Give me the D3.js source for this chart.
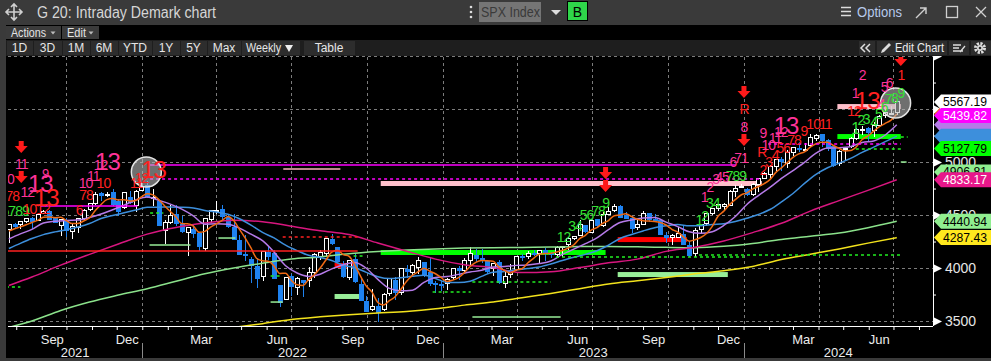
<!DOCTYPE html>
<html>
<head>
<meta charset="utf-8">
<script src="https://cdn.jsdelivr.net/npm/d3@7"></script>
<style>
  html, body { margin: 0; padding: 0; background: #000; }
  svg { display: block; font-family: "Liberation Sans", Arial, sans-serif; }
</style>
</head>
<body>
<svg id="chart" width="991" height="361"></svg>
<script>
// SPX Index, weekly bars Jul 2021 - Jul 2024
const dates = d3.timeFriday.range(new Date(2021, 6, 23), new Date(2024, 6, 6));

const open = [
  4367,4409,4406,4438,4464,4450,4514,4536,4466,4403,4450,4348,4385,4463,4553,4610,4700,4689,4712,4628,4573,4669,4587,4733,
  4779,4655,4632,4356,4431,4505,4412,4332,4363,4328,4188,4462,4541,4548,4474,4386,4255,4130,4082,4013,3920,4151,4134,3838,3702,3920,3818,3880,3883,3960,4113,4138,4271,4195,4035,3910,4083,3849,3683,3610,3638,3612,3755,3881,3765,3982,3956,4005,4052,3954,3853,3843,
  3853,3910,3999,3978,4070,4120,4090,4057,3992,4055,3855,3938,3983,4113,4108,4138,4135,4167,4140,4126,4190,4225,4282,4305,4405,4338,4454,4404,4507,4547,4580,4491,4464,4380,4415,4510,4460,4453,4310,4285,4290,4320,4217,4140,4365,4418,4517,4558,4576,4593,4725,4758,
  4745,4690,4792,4848,4887,4957,5026,4989,5093,5132,5111,5154,5220,5257,5204,5149,4987,5114,5142,5221,5303,5316,5297,5341,5440,5459,5471
];
const high = [
  4415,4429,4441,4468,4480,4513,4545,4549,4486,4466,4476,4429,4475,4559,4608,4718,4714,4717,4744,4652,4713,4731,4740,4808,
  4818,4749,4632,4453,4595,4590,4490,4386,4402,4329,4465,4546,4637,4593,4500,4513,4309,4307,4104,4091,4158,4205,4169,3838,3914,3946,3918,3880,4012,4140,4167,4280,4325,4203,4062,4076,4140,3906,3736,3806,3718,3762,3905,3911,4001,4028,4034,4100,4052,4101,3876,3878,
  3907,4003,4015,4095,4195,4182,4176,4061,4049,4079,3965,4039,4110,4133,4163,4170,4170,4186,4155,4212,4212,4291,4300,4449,4407,4458,4456,4528,4578,4607,4594,4528,4490,4458,4541,4514,4511,4465,4338,4317,4385,4394,4256,4374,4418,4521,4560,4595,4609,4739,4779,4793,
  4754,4802,4842,4907,4975,5030,5048,5111,5140,5189,5179,5261,5265,5264,5222,5151,5114,5146,5240,5325,5341,5327,5375,5447,5505,5524,5570
];
const low = [
  4233,4372,4367,4424,4367,4443,4508,4458,4428,4305,4288,4278,4329,4447,4537,4596,4630,4672,4585,4495,4553,4600,4531,4733,
  4663,4582,4395,4223,4414,4401,4327,4115,4279,4157,4161,4424,4506,4450,4381,4267,4131,4063,3859,3811,3876,4074,3900,3636,3702,3738,3742,3722,3822,3910,4080,4112,4219,4057,3907,3887,3856,3693,3584,3591,3491,3590,3733,3698,3750,3907,3938,3940,3918,3828,3764,3784,
  3795,3888,3885,3950,4015,4060,4047,3943,3928,3847,3809,3908,3968,4069,4086,4113,4049,4062,4098,4098,4103,4166,4261,4305,4328,4328,4385,4388,4504,4528,4474,4458,4335,4356,4415,4430,4449,4316,4238,4216,4284,4224,4104,4103,4334,4394,4503,4537,4546,4591,4667,4752,
  4682,4682,4714,4845,4845,4918,4920,4946,5057,5091,5104,5138,5203,5146,5107,4953,4963,5011,5130,5211,5256,5191,5234,5327,5420,5447,5445
];
const close = [
  4411,4395,4437,4468,4441,4509,4535,4458,4432,4455,4357,4391,4471,4545,4605,4697,4682,4698,4595,4538,4712,4620,4726,4766,
  4677,4662,4398,4432,4500,4418,4349,4385,4329,4204,4463,4543,4546,4488,4393,4272,4132,4123,4024,3901,4158,4109,3901,3675,3912,3825,3899,3863,3962,4130,4145,4280,4228,4058,3924,4067,3873,3693,3586,3640,3583,3752,3901,3771,3993,3965,4026,4072,3934,3852,3845,3840,
  3895,3999,3973,4071,4136,4090,4079,3970,4046,3862,3917,3971,4109,4105,4138,4133,4169,4136,4124,4192,4205,4282,4299,4410,4348,4450,4399,4505,4536,4582,4478,4464,4370,4406,4516,4457,4450,4320,4288,4309,4328,4224,4117,4358,4415,4514,4559,4595,4604,4719,4755,4770,
  4697,4784,4840,4891,4959,5027,5006,5089,5137,5124,5117,5234,5254,5204,5123,4967,5100,5128,5223,5303,5305,5278,5347,5432,5465,5460,5567
];

// moving average studies
const maFast = [ // every week
  4348,4371,4388,4408,4430,4450,4478,4482,4475,4478,4447,4419,4421,4444,4474,4542,4600,4645,4655,4642,
  4645,4633,4638,4672,4700,4690,4646,4587,4534,4482,4419,4417,4396,4337,4346,4385,4417,4449,4487,4448,
  4366,4282,4189,4090,4068,4063,4019,3949,3951,3884,3842,3835,3892,3936,4000,4076,4149,4168,4127,4111,
  4030,3923,3829,3772,3675,3651,3692,3729,3800,3876,3931,3965,3998,3970,3946,3909,3873,3886,3910,3956,
  4015,4054,4070,4069,4064,4009,3975,3953,3981,3993,4048,4091,4131,4136,4140,4151,4165,4188,4220,4278,
  4309,4358,4381,4422,4448,4494,4500,4513,4486,4460,4447,4443,4440,4430,4406,4365,4339,4294,4253,4267,
  4288,4326,4393,4488,4537,4598,4646,4689,4709,4745,4769,4796,4834,4900,4945,4994,5044,5077,5095,5140,
  5173,5187,5186,5156,5130,5104,5108,5144,5212,5247,5291,5333,5365,5396,5454
];
const maMid = [ // every second week
  4274,4322,4365,4425,4441,4449,4452,4476,4509,4550,4593,4642,4671,4639,4603,4555,4492,4414,4417,4412,
  4376,4319,4258,4150,4021,3953,3921,3942,3992,4031,4053,3998,3893,3808,3786,3791,3864,3911,3919,3940,
  3962,3978,4010,4014,4025,4029,4042,4066,4128,4178,4230,4285,4363,4429,4454,4471,4476,4433,4391,4342,
  4327,4343,4402,4486,4599,4684,4761,4845,4920,4997,5084,5132,5135,5147,5184,5198,5255,5351
];
const maSlow = [ // every second week
  4184,4233,4278,4315,4341,4362,4387,4420,4467,4495,4521,4547,4573,4574,4576,4574,4567,4543,4528,4507,
  4465,4405,4336,4284,4216,4164,4120,4100,4071,4026,4003,3959,3918,3900,3909,3922,3931,3902,3864,3863,
  3876,3921,3961,3967,3983,3995,4010,4038,4071,4102,4129,4163,4215,4279,4316,4350,4380,4398,4410,4398,
  4399,4410,4418,4438,4470,4505,4552,4624,4703,4798,4884,4946,4990,5034,5091,5141,5193,5243
];
const longWeeks = [1,5,10,15,20,25,30,35,40,45,50,55,60,65,70,75,80,85,90,95,100,105,110,115,120,125,130,135,140,145,150,155];
const ma50 = [3835,3915,4027,4129,4227,4320,4383,4424,4450,4437,4395,4352,4316,4236,4159,4084,4031,4003,3957,3965,4004,4049,4084,4157,4196,4255,4334,4422,4537,4636,4733,4833];
const ma100 = [3440,3500,3600,3680,3745,3805,3875,3945,4000,4045,4085,4105,4135,4155,4170,4180,4188,4192,4194,4198,4202,4203,4200,4195,4192,4205,4232,4270,4300,4330,4380,4441];
const yellowWeeks = [40,45,50,55,60,65,70,75,80,85,90,95,100,105,110,115,120,125,130,135,140,145,150,155];
const ma200 = [3440,3475,3515,3540,3560,3575,3590,3615,3650,3680,3720,3760,3805,3850,3880,3910,3945,3975,4015,4080,4130,4180,4235,4287];

// right-hand price tags
const tagValues = [5567.19, 5439.82, 5127.79, 4906.81, 4833.17, 4440.94, 4287.43];
const tagFill   = ["#ffffff", "#ff00ff", "#00ff00", "#90ee90", "#e8178a", "#90ee90", "#ffe81e"];
const tagInk    = ["#000", "#fff", "#000", "#000", "#fff", "#000", "#000"];
const yTicks = [3500, 4000, 4500, 5000, 5500, 6000];

// DeMark marks: [text, week index, price, colour, size]
const tdTexts = [
  ["10",-0.3,4840,"p",14],["11",2.15,4981,"p",14],["9",6.3,4896,"p",13],["13",5.45,4802,"p",24],
  ["78",0.6,4679,"r",14],["12",3.2,4717,"p",14],["13",6.5,4670,"r",24],["5789",1.1,4538,"g",14],
  ["1012",4.75,4557,"r",14],["6",12.2,4547,"r",14],["78",13.4,4689,"r",14],["10",13.3,4802,"p",14],
  ["10",16.4,4802,"r",14],["11",14.65,4868,"p",14],["12",15.9,4972,"p",14],["13",17.1,5009,"p",24],
  ["11",22.1,4802,"r",14],["12",23.0,4849,"r",14],["13",25.1,4925,"r",24],
  ["12",96.2,4292,"g",14],["34",98.2,4396,"g",14],["56",100.2,4500,"g",14],["78",102.2,4538,"g",14],["9",103.5,4613,"g",14],
  ["1",119.7,4453,"g",14],["2",120.7,4491,"g",14],["34",122.1,4613,"g",14],
  ["1",120.6,4670,"p",14],["2",121.6,4764,"p",14],["3",122.6,4840,"p",14],["45",123.7,4858,"p",14],
  ["789",126.1,4868,"g",14],["6",125.6,5000,"p",14],["71",127.0,5038,"p",14],
  ["R",127.5,5500,"r",14],["8",127.5,5330,"p",14],
  ["2",130.8,4925,"r",14],["3",131.8,5000,"r",14],["4",132.9,5066,"r",14],["56",134.3,5128,"r",14],
  ["78",136.2,5208,"r",14],["9",137.9,5292,"r",14],["R",130.6,5094,"r",14],
  ["10",131.7,5160,"p",14],["11",132.9,5226,"p",14],["9",130.8,5274,"p",14],["12",133.9,5283,"p",14],["13",134.8,5349,"p",24],
  ["10",139.5,5358,"r",14],["11",141.6,5358,"r",14],
  ["12",146.6,5481,"r",14],["1",146.8,5651,"p",14],["13",148.9,5585,"r",24],["2",148.0,5821,"p",14],
  ["4",151.3,5547,"p",14],["5",151.8,5708,"p",14],["6",152.7,5745,"p",14],["1",154.7,5821,"r",14],
  ["1",146.8,5321,"g",16],["2",147.8,5396,"g",14],["3",148.7,5406,"g",14],["4",150.0,5377,"g",14],
  ["5",150.8,5453,"g",14],["6",151.8,5519,"g",14],["7",152.5,5594,"g",14],["8",153.6,5604,"g",14],["9",154.7,5651,"g",14]
];
const tdArrows = [[2.15,5142],[2.15,4858],[103.5,4896],[103.5,4774],[127.5,5660],[127.5,5208],[154.7,5962]];
const tdCircles = [[23.85,4906],[153.8,5557]];
// [from week, to week, top price, bottom price, colour]
const tdBars = [
  [56.5,60.5,4047,4000,"#ff0000"],[56.5,61.35,3755,3708,"#98ee98"],
  [64.5,130.6,4821,4774,"#ffc0cb"],[64.5,103.5,4170,4123,"#00ff00"],
  [105.6,117.6,4292,4245,"#ff0000"],[105.6,124.7,3962,3915,"#98ee98"],
  [143.7,154.7,5547,5500,"#ffc0cb"],[143.7,154.7,5264,5217,"#00ff00"]
];
// [from week, to week, price, colour, dashed]
const tdLines = [
  [5.45,22.3,4585,"#ff00ff",0],[24.5,126.1,4972,"#ff00ff",0],[24.5,130.6,4840,"#ff00ff",1],
  [47.6,57.5,4934,"#ffb6c1",0],[-0.5,60.5,4160,"#ff2020",0],[47.5,61,4292,"#ff2020",1],
  [24.4,31.5,4217,"#98ee98",0],[36.35,39.3,4283,"#98ee98",0],[45.4,47.5,3679,"#98ee98",0],[80.4,95.7,3538,"#98ee98",0],
  [24.5,26.8,4519,"#22ee22",1],[-0.5,2.0,3821,"#22ee22",1],[45.4,47.1,3925,"#22ee22",1],[59.8,61.35,4113,"#22ee22",1],
  [73.5,80.1,3774,"#22ee22",1],[80.4,94.0,3868,"#22ee22",1],[94.9,127.5,4104,"#22ee22",1],[119.7,154.7,4123,"#22ee22",1],
  [131.7,154.7,5170,"#ff00ff",1],[146.9,154.7,5123,"#22ee22",1],[154.7,155.9,5236,"#22ee22",1],[154.7,155.7,5000,"#98ee98",0]
];

const W = 991, H = 361;
const plot = { left: 8, right: 933, top: 57, bottom: 326 };
const tdColor = { r: "#ff2020", p: "#ff3399", g: "#33e033" };

const x = d3.scaleTime()
  .domain([new Date(2021, 6, 22), new Date(2024, 7, 18)])
  .range([plot.left, plot.right]);
const y = d3.scaleLinear()
  .domain([3453, 5991])
  .range([plot.bottom, plot.top]);
const xw = i => x(new Date(+dates[0] + i * 7 * 864e5));

const svg = d3.select("#chart");

// window frame
svg.append("rect").attr("width", W).attr("height", H).attr("fill", "#3a3a3a");
svg.append("rect").attr("x", 6).attr("y", 25).attr("width", W - 6).attr("height", 333).attr("fill", "#000");

svg.append("clipPath").attr("id", "clip")
  .append("rect")
    .attr("x", plot.left).attr("y", plot.top)
    .attr("width", plot.right - plot.left).attr("height", plot.bottom - plot.top);

const grid = svg.append("g")
    .attr("stroke", "#7c7c7c")
    .attr("stroke-dasharray", "3,3")
    .attr("shape-rendering", "crispEdges");

grid.selectAll(".h")
  .data(yTicks)
  .join("line")
    .attr("x1", plot.left).attr("x2", plot.right)
    .attr("y1", d => Math.round(y(d)) + 0.5).attr("y2", d => Math.round(y(d)) + 0.5);

grid.selectAll(".v")
  .data(d3.timeMonth.every(3).range(x.domain()[0], x.domain()[1]))
  .join("line")
    .attr("x1", d => Math.round(x(d)) + 0.5).attr("x2", d => Math.round(x(d)) + 0.5)
    .attr("y1", plot.top).attr("y2", plot.bottom);

const chart = svg.append("g").attr("clip-path", "url(#clip)");

// DeMark bars under price
chart.append("g")
  .selectAll("rect")
  .data(tdBars)
  .join("rect")
    .attr("x", d => xw(d[0]))
    .attr("width", d => xw(d[1]) - xw(d[0]))
    .attr("y", d => y(d[2]))
    .attr("height", d => y(d[3]) - y(d[2]))
    .attr("fill", d => d[4]);

// candles
const candles = chart.append("g").attr("shape-rendering", "crispEdges")
  .selectAll("g")
  .data(dates.map((d, i) => ({ d, o: open[i], h: high[i], l: low[i], c: close[i] })))
  .join("g")
    .attr("transform", d => `translate(${Math.round(x(d.d)) + 0.5},0)`);

candles.append("line")
    .attr("y1", d => y(d.h)).attr("y2", d => y(d.l))
    .attr("stroke", d => d.c >= d.o ? "#fff" : "#1e82f0");

candles.append("rect")
    .attr("x", -2).attr("width", 4)
    .attr("y", d => y(Math.max(d.o, d.c)))
    .attr("height", d => Math.max(1, Math.abs(y(d.o) - y(d.c))))
    .attr("fill", d => d.c >= d.o ? "#000" : "#1e82f0")
    .attr("stroke", d => d.c >= d.o ? "#fff" : "#1e82f0");

// moving averages
const line = d3.line()
  .x(d => xw(d[0]))
  .y(d => y(d[1]))
  .curve(d3.curveMonotoneX);

const studies = [
  { pts: yellowWeeks.map((w, i) => [w - 1, ma200[i]]), color: "#f2e21c" },
  { pts: longWeeks.map((w, i) => [w - 1, ma100[i]]), color: "#8be28b" },
  { pts: longWeeks.map((w, i) => [w - 1, ma50[i]]), color: "#d8167f" },
  { pts: maSlow.map((v, i) => [i * 2, v]), color: "#3d8fdc" },
  { pts: maMid.map((v, i) => [i * 2, v]), color: "#b57ae8" },
  { pts: maFast.map((v, i) => [i, v]), color: "#f06a14" }
];

chart.append("g")
    .attr("fill", "none")
    .attr("stroke-width", 1.5)
    .attr("stroke-linejoin", "round")
  .selectAll("path")
  .data(studies)
  .join("path")
    .attr("stroke", d => d.color)
    .attr("d", d => line(d.pts));

// DeMark lines
chart.append("g")
  .selectAll("line")
  .data(tdLines)
  .join("line")
    .attr("x1", d => xw(d[0])).attr("x2", d => xw(d[1]))
    .attr("y1", d => y(d[2])).attr("y2", d => y(d[2]))
    .attr("stroke", d => d[3])
    .attr("stroke-width", 1.5)
    .attr("stroke-dasharray", d => d[4] ? "3,3" : null);

chart.append("g")
  .selectAll("circle")
  .data(tdCircles)
  .join("circle")
    .attr("cx", d => xw(d[0])).attr("cy", d => y(d[1]))
    .attr("r", 15)
    .attr("fill", "rgba(185,185,185,0.6)")
    .attr("stroke", "#e4e4e4")
    .attr("stroke-width", 1.5);

chart.append("g")
    .attr("font-family", "\"Liberation Sans Narrow\", \"Arial Narrow\", \"Liberation Sans\", sans-serif")
    .attr("text-anchor", "middle")
    .attr("dominant-baseline", "central")
    .attr("letter-spacing", "-1px")
  .selectAll("text")
  .data(tdTexts)
  .join("text")
    .attr("x", d => xw(d[1]))
    .attr("y", d => y(d[2]))
    .attr("font-size", d => d[4])
    .attr("fill", d => tdColor[d[3]])
    .text(d => d[0]);

chart.append("g")
  .selectAll("path")
  .data(tdArrows)
  .join("path")
    .attr("fill", "#ff1a1a")
    .attr("d", d => {
      const cx = xw(d[0]), cy = y(d[1]);
      return `M${cx - 2.5},${cy - 6}h5v5h4l-6.5,7l-6.5,-7h4z`;
    });

// bottom axis
const xAxis = svg.append("g")
    .attr("transform", `translate(0,${plot.bottom})`)
    .call(d3.axisBottom(x)
      .ticks(d3.timeMonth.every(1))
      .tickSize(4)
      .tickFormat(d => [2, 5, 8, 11].includes(d.getMonth()) ? d3.timeFormat("%b")(d) : ""));
xAxis.select(".domain").attr("stroke", "#fff").attr("d", `M${plot.left},0.5H${plot.right}`);
xAxis.selectAll(".tick line").attr("stroke", "#fff");
xAxis.selectAll(".tick text")
    .attr("x", 10).attr("y", 9)
    .attr("fill", "#ececec")
    .attr("font-size", 13)
    .attr("font-family", "\"Liberation Sans\", Arial, sans-serif");

const years = [2021, 2022, 2023, 2024];
svg.append("g")
  .selectAll("line")
  .data(years.slice(1))
  .join("line")
    .attr("x1", d => Math.round(x(new Date(d, 0, 1))) + 0.5)
    .attr("x2", d => Math.round(x(new Date(d, 0, 1))) + 0.5)
    .attr("y1", 343).attr("y2", 358)
    .attr("stroke", "#8a8a8a");

svg.append("g")
    .attr("fill", "#ececec")
    .attr("font-size", 13)
    .attr("text-anchor", "middle")
  .selectAll("text")
  .data(years)
  .join("text")
    .attr("x", d => (Math.max(plot.left, x(new Date(d, 0, 1))) + Math.min(plot.right, x(new Date(d + 1, 0, 1)))) / 2)
    .attr("y", 357)
    .text(d => d);

// right axis
const yAxis = svg.append("g")
    .attr("transform", `translate(${plot.right},0)`)
    .call(d3.axisRight(y)
      .tickValues(d3.range(3500, 6001, 250))
      .tickSize(3)
      .tickPadding(9)
      .tickFormat(d => d % 500 === 0 && d < 6000 ? d : ""));
yAxis.select(".domain").attr("stroke", "#fff").attr("d", `M0.5,${plot.top}V${plot.bottom}`);
yAxis.selectAll(".tick line").attr("stroke", "#fff");
yAxis.selectAll(".tick text")
    .attr("fill", "#e6e6e6")
    .attr("font-size", 14)
    .attr("font-family", "\"Liberation Sans\", Arial, sans-serif");
yAxis.selectAll(".tick")
  .filter(d => d % 500 === 0)
  .append("path")
    .attr("d", "M1,-4L9,0L1,4Z")
    .attr("fill", "#fff");

// price tags: hidden study tags first, then the visible ones
const tag = (g, v, fill, ink, label) => {
  const cy = y(v);
  g.append("path")
    .attr("d", `M${plot.right + 1},${cy}L${plot.right + 8},${cy - 7.5}H${W}V${cy + 7.5}H${plot.right + 8}Z`)
    .attr("fill", fill);
  if (label) g.append("text")
    .attr("x", plot.right + 10).attr("y", cy)
    .attr("dominant-baseline", "central")
    .attr("font-size", 13)
    .attr("textLength", 44)
    .attr("lengthAdjust", "spacingAndGlyphs")
    .attr("fill", ink)
    .text(label);
};
const tags = svg.append("g");
tag(tags, maFast[maFast.length - 1], "#f06a14", "#000", "");
tag(tags, maMid[maMid.length - 1], "#b57ae8", "#000", "");
tag(tags, maSlow[maSlow.length - 1], "#3d8fdc", "#000", "");
tagValues.forEach((v, i) => tag(tags, v, tagFill[i], tagInk[i], v.toFixed(2)));

// ---- window chrome ----
const titleBar = svg.append("g");
titleBar.append("rect").attr("width", W).attr("height", 25).attr("fill", "#3a3a3a");
titleBar.append("path")
    .attr("d", "M14,4V20M6,12H22M11,7L14,4L17,7M11,17L14,20L17,17M9,9L6,12L9,15M19,9L22,12L19,15")
    .attr("stroke", "#d0d0d0").attr("stroke-width", 1.6).attr("fill", "none");
titleBar.append("text")
    .attr("x", 37).attr("y", 18)
    .attr("font-size", 16).attr("fill", "#d6d6d6")
    .attr("textLength", 179).attr("lengthAdjust", "spacingAndGlyphs")
    .text("G 20: Intraday Demark chart");
titleBar.selectAll(".dot").data([7, 12, 17]).join("circle")
    .attr("cx", 471).attr("cy", d => d).attr("r", 1.3).attr("fill", "#ddd");
titleBar.append("rect").attr("x", 479).attr("y", 2).attr("width", 62).attr("height", 20).attr("fill", "#757575");
titleBar.append("text")
    .attr("x", 481).attr("y", 17).attr("font-size", 15).attr("fill", "#3a3a3a")
    .attr("textLength", 59).attr("lengthAdjust", "spacingAndGlyphs")
    .text("SPX Index");
titleBar.append("path").attr("d", "M551,10H561L556,15Z").attr("fill", "#ddd");
titleBar.append("rect").attr("x", 567.5).attr("y", 1.5).attr("width", 20).attr("height", 19)
    .attr("fill", "#2fd64a").attr("stroke", "#000");
titleBar.append("text")
    .attr("x", 577.5).attr("y", 16.5).attr("text-anchor", "middle")
    .attr("font-size", 14).attr("fill", "#000")
    .text("B");
titleBar.append("path").attr("d", "M841,7.5H851M841,11.5H851M841,15.5H851")
    .attr("stroke", "#dcdcdc").attr("stroke-width", 1.3);
titleBar.append("text")
    .attr("x", 857).attr("y", 17).attr("font-size", 15).attr("fill", "#b6c9ec")
    .attr("textLength", 45).attr("lengthAdjust", "spacingAndGlyphs")
    .text("Options");
titleBar.append("path").attr("d", "M916,18L926,8M920,8H926V14")
    .attr("stroke", "#d0d0d0").attr("stroke-width", 1.4).attr("fill", "none");
titleBar.append("rect").attr("x", 946.5).attr("y", 6.5).attr("width", 11).attr("height", 11)
    .attr("stroke", "#d0d0d0").attr("stroke-width", 1.3).attr("fill", "none");
titleBar.append("path").attr("d", "M976,7L986,17M986,7L976,17")
    .attr("stroke", "#d0d0d0").attr("stroke-width", 1.3);

// row 2: Actions / Edit
const row2 = svg.append("g").attr("font-size", 12).attr("fill", "#e4e4e4");
[[6, 55, "Actions", 53, 35], [62, 37, "Edit", 91, 19]].forEach(b => {
  row2.append("rect").attr("x", b[0]).attr("y", 26).attr("width", b[1]).attr("height", 13).attr("fill", "#3b3b3b");
  row2.append("text").attr("x", b[0] + 5).attr("y", 37)
    .attr("textLength", b[4]).attr("lengthAdjust", "spacingAndGlyphs").text(b[2]);
  row2.append("path").attr("d", `M${b[3] - 2.5},31.5H${b[3] + 2.5}L${b[3]},34.5Z`).attr("fill", "#bbb");
});

// row 3: range buttons
const row3 = svg.append("g");
row3.append("rect").attr("x", 6).attr("y", 40).attr("width", W - 6).attr("height", 16).attr("fill", "#1e1e1e");
const rangeEdges = [6, 33, 62, 90, 118, 152, 180, 207, 241, 300];
const rangeLabels = ["1D", "3D", "1M", "6M", "YTD", "1Y", "5Y", "Max", "Weekly"];
rangeLabels.forEach((t, i) => {
  row3.append("rect").attr("x", rangeEdges[i] + 1).attr("y", 41)
    .attr("width", rangeEdges[i + 1] - rangeEdges[i] - 1).attr("height", 14).attr("fill", "#2d2d2d");
  const tx = row3.append("text")
    .attr("x", t === "Weekly" ? rangeEdges[i] + 5 : (rangeEdges[i] + rangeEdges[i + 1]) / 2)
    .attr("y", 52).attr("font-size", 12).attr("fill", "#e6e6e6")
    .attr("text-anchor", t === "Weekly" ? "start" : "middle")
    .text(t);
  if (t === "Weekly") tx.attr("textLength", 35).attr("lengthAdjust", "spacingAndGlyphs");
});
row3.append("path").attr("d", "M285,45H293L289,52Z").attr("fill", "#eee");
row3.append("rect").attr("x", 304).attr("y", 41).attr("width", 51).attr("height", 14).attr("fill", "#2d2d2d");
row3.append("text").attr("x", 329).attr("y", 52).attr("text-anchor", "middle")
    .attr("font-size", 12).attr("fill", "#e6e6e6").text("Table");

[[858, 17], [876, 71], [948, 21], [970, 21]].forEach(b =>
  row3.append("rect").attr("x", b[0] + 1).attr("y", 41).attr("width", b[1] - 1).attr("height", 14).attr("fill", "#2d2d2d"));
row3.append("path").attr("d", "M865,44L861,48L865,52M870,44L866,48L870,52")
    .attr("stroke", "#ddd").attr("stroke-width", 1.5).attr("fill", "none");
row3.append("path").attr("d", "M881,53L882,50L889,43L891,45L884,52Z").attr("fill", "#ddd");
row3.append("text").attr("x", 895).attr("y", 52).attr("font-size", 13).attr("fill", "#eee")
    .attr("textLength", 49).attr("lengthAdjust", "spacingAndGlyphs").text("Edit Chart");
row3.append("path").attr("d", "M953,45H961M953,48H959M953,51H963M960,52L965,46")
    .attr("stroke", "#ddd").attr("stroke-width", 1.3).attr("fill", "none");
row3.append("circle").attr("cx", 980).attr("cy", 48).attr("r", 4.5)
    .attr("fill", "none").attr("stroke", "#ddd").attr("stroke-width", 3).attr("stroke-dasharray", "2.2,1.3");
row3.append("circle").attr("cx", 980).attr("cy", 48).attr("r", 3).attr("fill", "#ddd");
row3.append("circle").attr("cx", 980).attr("cy", 48).attr("r", 1.3).attr("fill", "#2d2d2d");
</script>
</body>
</html>
